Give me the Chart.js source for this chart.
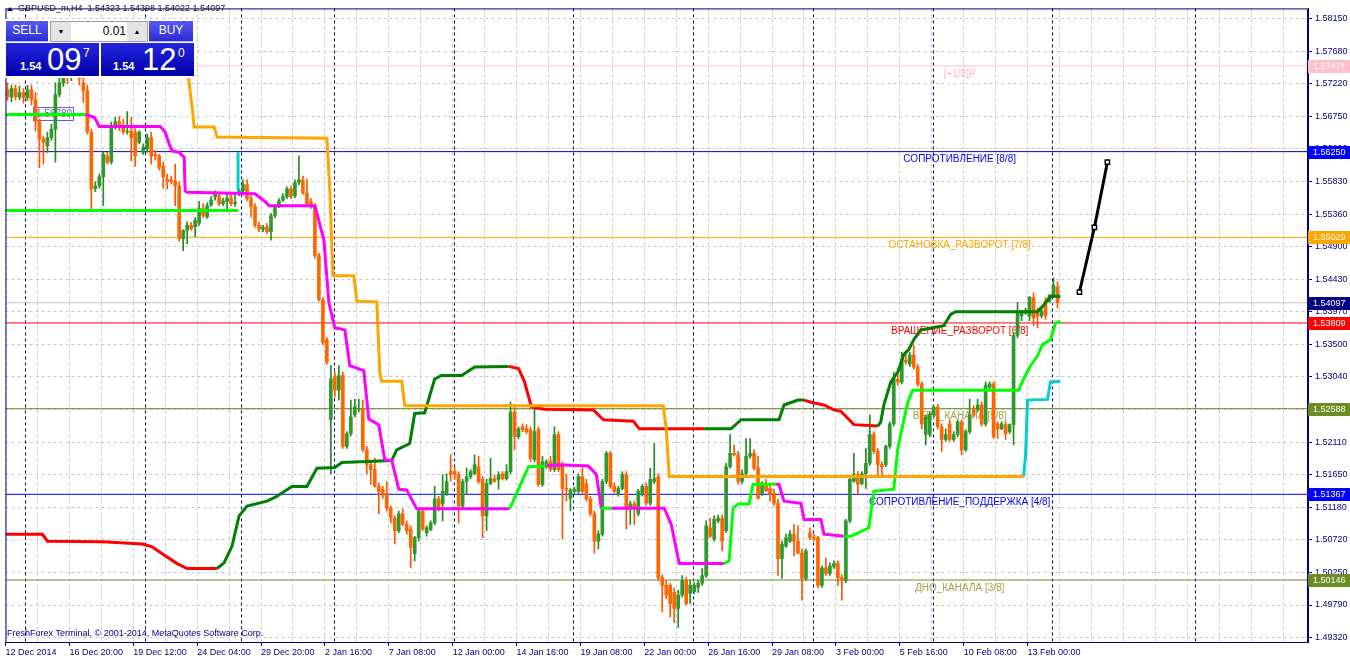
<!DOCTYPE html>
<html>
<head>
<meta charset="utf-8">
<script src="https://cdn.jsdelivr.net/npm/chart.js@4.4.1/dist/chart.umd.min.js"></script>
<style>
  body { margin: 0; background: #fff; overflow: hidden; }
  #wrap { position: relative; width: 1350px; height: 660px; }
  canvas { position: absolute; left: 0; top: 0; }
  .ui { position: absolute; font-family: "Liberation Sans", Arial, sans-serif; color: #fff; }
  .btn { top: 21px; height: 20px; background: linear-gradient(#5858f4, #2c2cd4); font-size: 12px;
         text-align: center; line-height: 19px; border-bottom: 1px solid #b8b8ff; }
  .spin { left: 50px; top: 21px; width: 96px; height: 19px; border: 1px solid #a0a0a0; background: #fff; color: #000; }
  .arr { position: absolute; top: 0; width: 20px; height: 19px; background: #e4e4e4; font-size: 7px;
         line-height: 19px; text-align: center; color: #000; }
  .lot { position: absolute; right: 21px; top: 0; line-height: 19px; font-size: 12px; }
  .px { top: 43px; width: 93px; height: 33px; background: linear-gradient(#2424e0, #0000a8); }
  .px span { position: absolute; }
  .s { font-size: 11px; font-weight: bold; top: 17px; }
  .b { font-size: 31px; top: 0; line-height: 33px; }
  .u { font-size: 12px; top: 3px; }
</style>
</head>
<body>
<div id="wrap">
  <canvas id="chart" width="1350" height="660"></canvas>
  <div class="ui" style="left:5px;top:19px;width:190px;height:59px;background:#fff;"></div>
  <div class="ui btn" style="left:6px;width:42px;">SELL</div>
  <div class="ui spin">
    <div class="arr" style="left:0;">&#9660;</div>
    <div class="lot">0.01</div>
    <div class="arr" style="right:0;">&#9650;</div>
  </div>
  <div class="ui btn" style="left:149px;width:44px;">BUY</div>
  <div class="ui px" style="left:6px;"><span class="s" style="left:14px;">1.54</span><span class="b" style="left:41px;">09</span><span class="u" style="left:77px;">7</span></div>
  <div class="ui px" style="left:101px;"><span class="s" style="left:12px;">1.54</span><span class="b" style="left:41px;">12</span><span class="u" style="left:77px;">0</span></div>
</div>
<script>
// GBPUSD_m, H4 - 264 bougies
var NAVY = '#000080';
var FONT = '"Liberation Sans", Arial, sans-serif';

var xLabels = ["12 Dec 2014", "16 Dec 20:00", "19 Dec 12:00", "24 Dec 04:00", "29 Dec 20:00", "2 Jan 16:00",
  "7 Jan 08:00", "12 Jan 00:00", "14 Jan 16:00", "19 Jan 08:00", "22 Jan 00:00", "26 Jan 16:00",
  "29 Jan 08:00", "3 Feb 00:00", "5 Feb 16:00", "10 Feb 08:00", "13 Feb 00:00"];

var yTicks = [1.58150, 1.57680, 1.57220, 1.56750, 1.56290, 1.55830, 1.55360, 1.54900, 1.54430, 1.53970,
  1.53500, 1.53040, 1.52570, 1.52110, 1.51650, 1.51180, 1.50720, 1.50250, 1.49790, 1.49320];

var open = [
  1.5713,1.5703,1.5715,1.5703,1.5709,1.5702,1.5713,1.5699,1.5668,1.5643,
  1.5633,1.5645,1.5657,1.5706,1.5723,1.5737,1.5732,1.5746,1.5734,1.5723,
  1.5712,1.5653,1.5572,1.5576,1.5589,1.5619,1.5610,1.5660,1.5668,1.5660,
  1.5653,1.5654,1.5653,1.5638,1.5624,1.5629,1.5645,1.5621,1.5619,1.5604,
  1.5586,1.5585,1.5583,1.5576,1.5501,1.5513,1.5520,1.5518,1.5523,1.5544,
  1.5532,1.5549,1.5561,1.5562,1.5551,1.5554,1.5559,1.5551,1.5566,1.5569,
  1.5578,1.5558,1.5547,1.5520,1.5514,1.5518,1.5511,1.5534,1.5548,1.5556,
  1.5561,1.5572,1.5562,1.5581,1.5585,1.5566,1.5554,1.5547,1.5477,1.5414,
  1.5357,1.5243,1.5304,1.5285,1.5306,1.5205,1.5223,1.5250,1.5258,1.5258,
  1.5200,1.5179,1.5172,1.5148,1.5144,1.5138,1.5117,1.5103,1.5085,1.5109,
  1.5094,1.5087,1.5052,1.5075,1.5113,1.5082,1.5087,1.5096,1.5130,1.5123,
  1.5138,1.5169,1.5169,1.5165,1.5120,1.5155,1.5162,1.5166,1.5176,1.5158,
  1.5106,1.5152,1.5159,1.5158,1.5166,1.5159,1.5169,1.5254,1.5219,1.5233,
  1.5230,1.5229,1.5186,1.5229,1.5151,1.5176,1.5183,1.5172,1.5222,1.5179,
  1.5145,1.5131,1.5141,1.5141,1.5162,1.5152,1.5130,1.5109,1.5070,1.5080,
  1.5155,1.5195,1.5148,1.5137,1.5145,1.5165,1.5117,1.5123,1.5109,1.5137,
  1.5148,1.5124,1.5155,1.5162,1.5018,1.5007,1.5007,1.4997,1.4974,1.4993,
  1.5014,1.4995,1.4998,1.5004,1.5010,1.5021,1.5089,1.5073,1.5099,1.5103,
  1.5085,1.5176,1.5195,1.5193,1.5155,1.5166,1.5191,1.5195,1.5174,1.5138,
  1.5151,1.5145,1.5138,1.5124,1.5045,1.5063,1.5070,1.5080,1.5070,1.5053,
  1.5017,1.5082,1.5075,1.5075,1.5007,1.5032,1.5024,1.5034,1.5038,1.5018,
  1.5014,1.5099,1.5155,1.5165,1.5152,1.5166,1.5181,1.5222,1.5198,1.5179,
  1.5179,1.5205,1.5237,1.5301,1.5297,1.5328,1.5322,1.5335,1.5318,1.5294,
  1.5222,1.5222,1.5250,1.5261,1.5233,1.5215,1.5237,1.5215,1.5222,1.5240,
  1.5200,1.5226,1.5258,1.5257,1.5264,1.5237,1.5289,1.5294,1.5237,1.5230,
  1.5236,1.5226,1.5236,1.5363,1.5391,1.5395,1.5391,1.5417,1.5398,1.5391,
  1.5412,1.5412,1.5419,1.54323];

var high = [
  1.5723,1.5720,1.5720,1.5718,1.5715,1.5720,1.5720,1.5709,1.5671,1.5647,
  1.5653,1.5664,1.5723,1.5734,1.5749,1.5749,1.5756,1.5751,1.5746,1.5734,
  1.5720,1.5657,1.5582,1.5593,1.5624,1.5624,1.5667,1.5674,1.5675,1.5671,
  1.5682,1.5674,1.5658,1.5655,1.5636,1.5650,1.5653,1.5627,1.5621,1.5610,
  1.5593,1.5590,1.5607,1.5582,1.5514,1.5525,1.5524,1.5531,1.5554,1.5551,
  1.5552,1.5561,1.5569,1.5568,1.5559,1.5565,1.5565,1.5565,1.5572,1.5585,
  1.5585,1.5562,1.5551,1.5525,1.5520,1.5523,1.5537,1.5549,1.5558,1.5565,
  1.5575,1.5576,1.5585,1.5619,1.5590,1.5586,1.5558,1.5551,1.5480,1.5417,
  1.5360,1.5320,1.5311,1.5320,1.5311,1.5226,1.5271,1.5272,1.5272,1.5271,
  1.5205,1.5183,1.5188,1.5153,1.5148,1.5155,1.5120,1.5106,1.5113,1.5116,
  1.5099,1.5092,1.5077,1.5116,1.5118,1.5092,1.5099,1.5148,1.5134,1.5165,
  1.5166,1.5193,1.5176,1.5169,1.5158,1.5174,1.5172,1.5193,1.5191,1.5162,
  1.5158,1.5188,1.5164,1.5169,1.5169,1.5179,1.5268,1.5265,1.5233,1.5237,
  1.5236,1.5233,1.5264,1.5233,1.5191,1.5186,1.5191,1.5233,1.5226,1.5183,
  1.5166,1.5145,1.5147,1.5166,1.5174,1.5158,1.5134,1.5113,1.5085,1.5158,
  1.5198,1.5198,1.5153,1.5148,1.5169,1.5169,1.5127,1.5127,1.5144,1.5151,
  1.5153,1.5174,1.5209,1.5166,1.5022,1.5014,1.5010,1.5003,1.5000,1.5021,
  1.5018,1.5014,1.5011,1.5014,1.5031,1.5099,1.5103,1.5106,1.5107,1.5107,
  1.5181,1.5222,1.5207,1.5198,1.5172,1.5216,1.5216,1.5200,1.5191,1.5155,
  1.5158,1.5151,1.5144,1.5130,1.5070,1.5080,1.5085,1.5094,1.5092,1.5059,
  1.5059,1.5089,1.5080,1.5077,1.5035,1.5046,1.5039,1.5042,1.5042,1.5022,
  1.5101,1.5161,1.5195,1.5169,1.5169,1.5202,1.5250,1.5226,1.5202,1.5183,
  1.5207,1.5240,1.5311,1.5311,1.5339,1.5342,1.5339,1.5349,1.5322,1.5297,
  1.5250,1.5254,1.5264,1.5265,1.5237,1.5230,1.5243,1.5226,1.5243,1.5243,
  1.5229,1.5272,1.5263,1.5272,1.5268,1.5297,1.5297,1.5297,1.5240,1.5240,
  1.5240,1.5237,1.5367,1.5410,1.5398,1.5402,1.5419,1.5424,1.5402,1.5402,
  1.5417,1.5421,1.5445,1.54398];

var low = [
  1.5698,1.5696,1.5699,1.5699,1.5694,1.5698,1.5692,1.5654,1.5602,1.5607,
  1.5624,1.5641,1.5610,1.5703,1.5718,1.5722,1.5726,1.5732,1.5720,1.5695,
  1.5650,1.5541,1.5568,1.5573,1.5548,1.5607,1.5607,1.5657,1.5655,1.5650,
  1.5650,1.5612,1.5604,1.5636,1.5621,1.5624,1.5607,1.5613,1.5599,1.5573,
  1.5572,1.5579,1.5548,1.5497,1.5484,1.5494,1.5513,1.5504,1.5520,1.5531,
  1.5530,1.5547,1.5556,1.5548,1.5548,1.5540,1.5548,1.5547,1.5562,1.5566,
  1.5555,1.5532,1.5517,1.5511,1.5511,1.5508,1.5499,1.5531,1.5545,1.5554,
  1.5558,1.5558,1.5559,1.5578,1.5564,1.5549,1.5544,1.5473,1.5412,1.5350,
  1.5322,1.5166,1.5275,1.5271,1.5202,1.5202,1.5220,1.5247,1.5254,1.5198,
  1.5166,1.5151,1.5147,1.5109,1.5131,1.5113,1.5096,1.5066,1.5082,1.5092,
  1.5080,1.5032,1.5042,1.5070,1.5085,1.5077,1.5085,1.5093,1.5113,1.5099,
  1.5135,1.5155,1.5158,1.5096,1.5117,1.5137,1.5159,1.5165,1.5152,1.5075,
  1.5085,1.5150,1.5154,1.5144,1.5157,1.5157,1.5166,1.5200,1.5216,1.5226,
  1.5223,1.5183,1.5183,1.5148,1.5148,1.5174,1.5169,1.5169,1.5169,1.5073,
  1.5127,1.5113,1.5138,1.5138,1.5138,1.5127,1.5106,1.5053,1.5059,1.5077,
  1.5152,1.5145,1.5138,1.5134,1.5143,1.5087,1.5094,1.5094,1.5106,1.5134,
  1.5121,1.5121,1.5152,1.5014,1.4969,1.4988,1.4962,1.4954,1.4947,1.4990,
  1.4979,1.4981,1.4995,1.4997,1.5007,1.5018,1.5075,1.5070,1.5096,1.5056,
  1.5082,1.5174,1.5191,1.5151,1.5152,1.5164,1.5188,1.5171,1.5130,1.5135,
  1.5141,1.5127,1.5121,1.5021,1.5017,1.5061,1.5068,1.5049,1.5052,1.4986,
  1.5014,1.5072,1.5070,1.5004,1.5004,1.5021,1.5021,1.5031,1.5007,1.4986,
  1.5011,1.5096,1.5154,1.5137,1.5150,1.5145,1.5178,1.5195,1.5165,1.5165,
  1.5176,1.5202,1.5234,1.5292,1.5294,1.5322,1.5319,1.5315,1.5291,1.5230,
  1.5207,1.5219,1.5247,1.5230,1.5198,1.5212,1.5212,1.5212,1.5219,1.5193,
  1.5198,1.5223,1.5247,1.5254,1.5234,1.5234,1.5287,1.5216,1.5216,1.5229,
  1.5215,1.5223,1.5207,1.5360,1.5384,1.5393,1.5384,1.5377,1.5374,1.5388,
  1.5386,1.5410,1.5417,1.54022];

var close = [
  1.5703,1.5715,1.5703,1.5709,1.5702,1.5713,1.5699,1.5668,1.5643,1.5638,
  1.5645,1.5657,1.5706,1.5723,1.5737,1.5732,1.5746,1.5734,1.5729,1.5712,
  1.5653,1.5572,1.5576,1.5589,1.5621,1.5610,1.5660,1.5668,1.5660,1.5653,
  1.5654,1.5645,1.5619,1.5653,1.5631,1.5645,1.5619,1.5619,1.5603,1.5589,
  1.5582,1.5582,1.5576,1.5501,1.5513,1.5520,1.5515,1.5527,1.5544,1.5534,
  1.5548,1.5556,1.5565,1.5551,1.5555,1.5559,1.5551,1.5552,1.5569,1.5578,
  1.5558,1.5547,1.5520,1.5514,1.5517,1.5511,1.5534,1.5547,1.5555,1.5561,
  1.5572,1.5561,1.5581,1.5585,1.5566,1.5551,1.5547,1.5477,1.5414,1.5353,
  1.5325,1.5301,1.5285,1.5306,1.5205,1.5223,1.5247,1.5261,1.5258,1.5200,
  1.5179,1.5172,1.5148,1.5141,1.5137,1.5117,1.5103,1.5085,1.5109,1.5094,
  1.5085,1.5061,1.5075,1.5113,1.5087,1.5089,1.5096,1.5130,1.5116,1.5141,
  1.5155,1.5165,1.5165,1.5120,1.5155,1.5162,1.5169,1.5179,1.5155,1.5106,
  1.5152,1.5159,1.5155,1.5165,1.5159,1.5169,1.5254,1.5219,1.5230,1.5229,
  1.5226,1.5188,1.5226,1.5151,1.5183,1.5183,1.5172,1.5222,1.5172,1.5145,
  1.5143,1.5143,1.5144,1.5162,1.5141,1.5130,1.5109,1.5070,1.5080,1.5155,
  1.5195,1.5148,1.5141,1.5145,1.5165,1.5117,1.5123,1.5117,1.5141,1.5148,
  1.5124,1.5158,1.5159,1.5018,1.5007,1.4993,1.4981,1.4974,1.4993,1.5014,
  1.4981,1.5007,1.5007,1.5010,1.5021,1.5092,1.5077,1.5101,1.5103,1.5070,
  1.5176,1.5195,1.5193,1.5155,1.5166,1.5191,1.5195,1.5174,1.5131,1.5151,
  1.5142,1.5137,1.5124,1.5045,1.5066,1.5075,1.5080,1.5070,1.5053,1.5017,
  1.5056,1.5075,1.5073,1.5007,1.5032,1.5024,1.5035,1.5038,1.5018,1.5014,
  1.5099,1.5158,1.5165,1.5151,1.5166,1.5181,1.5222,1.5198,1.5179,1.5176,
  1.5205,1.5237,1.5301,1.5297,1.5329,1.5325,1.5335,1.5318,1.5294,1.5237,
  1.5247,1.5251,1.5261,1.5233,1.5215,1.5222,1.5215,1.5222,1.5240,1.5200,
  1.5226,1.5250,1.5250,1.5264,1.5237,1.5292,1.5294,1.5219,1.5230,1.5237,
  1.5223,1.5236,1.5363,1.5395,1.5398,1.5398,1.5417,1.5388,1.5391,1.5398,
  1.5391,1.5421,1.5434,1.54097];

// niveaux Murrey (prix, couleur ligne, couleur boite, texte, couleur texte)
var levelPrices = [1.57471, 1.56250, 1.55029, 1.54097, 1.53809, 1.52588, 1.51367, 1.50146];
var levelLineColors = ['#ffc0cb', '#0000c0', '#ffa500', '#c0c0c0', '#ff0000', '#6b8e23', '#0000ff', '#6b8e23'];
var levelBoxColors = ['#ffc0cb', '#0000ff', '#ffa500', '#000080', '#ff0000', '#6b8e23', '#0000ff', '#6b8e23'];
var levelNames = ['[+1/8]P', 'СОПРОТИВЛЕНИЕ [8/8]', 'ОСТАНОВКА_РАЗВОРОТ [7/8]', '', 'ВРАЩЕНИЕ_РАЗВОРОТ [6/8]',
  'ВЕРХ_КАНАЛА [5/8]', 'СОПРОТИВЛЕНИЕ_ПОДДЕРЖКА [4/8]', 'ДНО_КАНАЛА [3/8]'];
var levelTextColors = ['#ffb6c1', '#0000ff', '#ffa500', '', '#ff0000', '#a8a040', '#0000ff', '#a8a040'];

// separateurs de periode (en index de bougie)
var separators = [4.5, 34.5, 58.5, 81.75, 111.75, 141.75, 171.75, 201.75, 231.75, 261.75, 297.5];

// indicateurs : [index, prix]
var orangePts = [[45.25,1.5734],[46.25,1.5688],[46.75,1.5660],[51.75,1.5660],[52.5,1.5646],[80,1.5644],[80.75,1.5569],
  [81.5,1.5448],[86.75,1.5448],[87.5,1.5412],[92.5,1.5411],[93.25,1.5311],[93.75,1.5298],[98.75,1.5298],[99.5,1.5263],
  [164.25,1.5263],[165,1.5230],[165.75,1.5162],[254.5,1.5162]];
var cyanPts = [[254.5,1.5162],[255,1.5191],[255.5,1.5271],[260.5,1.5272],[261.25,1.5297],[263.75,1.5298]];
var cyanEarly = [[57.75,1.5569],[57.75,1.5624]];
var limeEarly1 = [[-0.5,1.5678],[19.5,1.5678]];
var limeEarly2 = [[-0.5,1.5541],[57.75,1.5541]];

// M = magenta, L = vert clair (couleur du segment qui part du point)
var mlPts = [[19.5,1.5678,'M'],[21.75,1.5674,'M'],[23,1.5661,'M'],[38.25,1.5661,'M'],[39.5,1.5653,'M'],[40.5,1.5636,'M'],
  [41.25,1.5626,'M'],[43,1.5624,'M'],[44.25,1.5617,'M'],[44.5,1.5569,'M'],[45,1.5567,'M'],[62,1.5565,'M'],[64.5,1.5554,'M'],
  [65.5,1.5548,'M'],[77,1.5548,'M'],[79.25,1.5499,'M'],[80.5,1.5410,'M'],[82,1.5374,'M'],[84.5,1.5371,'M'],[85.75,1.5320,'M'],
  [89.25,1.5313,'M'],[90.5,1.5244,'M'],[93,1.5236,'M'],[94.5,1.5186,'M'],[96.25,1.5185,'M'],[98,1.5144,'M'],[100,1.5143,'M'],
  [102.5,1.5116,'M'],[125.75,1.5116,'L'],[127,1.5131,'L'],[128,1.5144,'L'],[130.5,1.5176,'L'],[135,1.5177,'M'],[138,1.5179,'M'],
  [145.5,1.5177,'M'],[147.5,1.5165,'M'],[148.75,1.5117,'L'],[151.25,1.5117,'M'],[164.5,1.5117,'M'],[166.25,1.5094,'M'],
  [168.25,1.5038,'M'],[179.5,1.5038,'L'],[180.75,1.5042,'L'],[181.75,1.5117,'L'],[183,1.5123,'L'],[185.75,1.5123,'L'],
  [186.75,1.5151,'L'],[192.5,1.5151,'M'],[193.25,1.5151,'M'],[194.5,1.5127,'M'],[198.75,1.5124,'M'],[199.5,1.5101,'M'],
  [203.75,1.5101,'M'],[204.5,1.5080,'M'],[209.5,1.5077,'L'],[211.25,1.5077,'L'],[215.75,1.5089,'L'],[217,1.5141,'L'],
  [222,1.5144,'L'],[223,1.5202,'L'],[225.5,1.5268,'L'],[226.75,1.5285,'L'],[253.25,1.5285,'L'],[254.5,1.5301,'L'],
  [256.25,1.5320,'L'],[258,1.5334,'L'],[259.25,1.5350,'L'],[261.25,1.5357,'L'],[262.5,1.5381,'L'],[263.75,1.5383,'L']];

// R = rouge, G = vert fonce
var rgPts = [[-0.5,1.5080,'R'],[8.75,1.5080,'R'],[10,1.5070,'R'],[23.75,1.5069,'R'],[33.75,1.5066,'R'],[36.25,1.5062,'R'],
  [38.75,1.5052,'R'],[42.5,1.5038,'R'],[45,1.5031,'R'],[52.5,1.5031,'G'],[54.25,1.5039,'G'],[56.25,1.5063,'G'],[58,1.5106,'G'],
  [60,1.5120,'G'],[65,1.5127,'G'],[67.5,1.5134,'G'],[71.25,1.5148,'G'],[75,1.5148,'G'],[77.5,1.5174,'G'],[82,1.5175,'G'],
  [83.75,1.5182,'G'],[96.25,1.5185,'G'],[97.5,1.5200,'G'],[100.75,1.5209,'G'],[102,1.5252,'G'],[104.5,1.5253,'G'],
  [107,1.5301,'G'],[108.75,1.5306,'G'],[113.75,1.5306,'G'],[117,1.5318,'G'],[125.5,1.5319,'R'],[128,1.5316,'R'],
  [129.5,1.5297,'R'],[131.25,1.5261,'R'],[134.5,1.5258,'R'],[146.75,1.5257,'R'],[149.25,1.5243,'R'],[156.75,1.5241,'R'],
  [158.25,1.5230,'R'],[174.5,1.5230,'G'],[181.25,1.5230,'G'],[183.75,1.5243,'G'],[193.25,1.5243,'G'],[194.5,1.5264,'G'],
  [198,1.5271,'G'],[199.5,1.5271,'R'],[201.25,1.5268,'R'],[204.5,1.5264,'R'],[207,1.5257,'R'],[208.75,1.5255,'R'],
  [212,1.5236,'R'],[218,1.5234,'G'],[218.75,1.5240,'G'],[219.5,1.5264,'G'],[221.25,1.5297,'G'],[223,1.5311,'G'],
  [224.5,1.5336,'G'],[225.75,1.5343,'G'],[227,1.5357,'G'],[228.75,1.5371,'G'],[234.5,1.5377,'G'],[236.25,1.5393,'G'],
  [237.5,1.5397,'G'],[258,1.5397,'G'],[259.5,1.5406,'G'],[261.25,1.5419,'G'],[263.75,1.5419,'G']];

var forecastPts = [[268.5,1.5425],[272.25,1.5517],[275.5,1.5610]];

var labelK = 238.5;      // centre des textes de niveau
var tagPrice = 1.56780;  // petite etiquette a gauche

// ---------------------------------------------------------------
function pts(arr) { return arr.map(function (p) { return {x: p[0], y: p[1]}; }); }

var bull = close.map(function (c, i) { return c >= open[i]; });
var wickData = high.map(function (h, i) { return {x: i, y: [low[i], h]}; });
var bodyData = open.map(function (o, i) { return {x: i, y: [o, close[i]]}; });

var lineBase = {type: 'line', pointRadius: 0, borderWidth: 3, tension: 0, fill: false};

var datasets = [];
datasets.push(Object.assign({}, lineBase, {data: pts(forecastPts), borderColor: '#000', order: 0,
  pointRadius: 3, pointStyle: 'rect', pointBackgroundColor: '#fff', pointBorderColor: '#000', pointBorderWidth: 1.5}));
datasets.push(Object.assign({}, lineBase, {data: pts(orangePts), borderColor: '#ffa500', order: 1}));
datasets.push(Object.assign({}, lineBase, {data: pts(cyanPts), borderColor: '#00ced1', order: 1}));
datasets.push(Object.assign({}, lineBase, {data: pts(cyanEarly), borderColor: '#00ced1', order: 1}));
datasets.push(Object.assign({}, lineBase, {data: pts(limeEarly1), borderColor: '#00ff00', order: 2}));
datasets.push(Object.assign({}, lineBase, {data: pts(limeEarly2), borderColor: '#00ff00', order: 2}));
datasets.push(Object.assign({}, lineBase, {data: pts(mlPts), borderColor: '#ff00ff', order: 2,
  segment: {borderColor: function (c) { return mlPts[c.p0DataIndex][2] === 'L' ? '#00ff00' : '#ff00ff'; }}}));
datasets.push(Object.assign({}, lineBase, {data: pts(rgPts), borderColor: '#ff0000', order: 3,
  segment: {borderColor: function (c) { return rgPts[c.p0DataIndex][2] === 'G' ? '#008000' : '#ff0000'; }}}));
datasets.push({type: 'bar', data: bodyData, barThickness: 3, grouped: false, minBarLength: 1, order: 5,
  backgroundColor: function (c) { return bull[c.dataIndex] ? '#2e9a2e' : '#ff6600'; }});
datasets.push({type: 'bar', data: wickData, barThickness: 1, grouped: false, order: 6,
  backgroundColor: function (c) { return bull[c.dataIndex] ? '#228b22' : '#ff5500'; }});
levelPrices.forEach(function (p, i) {
  datasets.push({type: 'line', data: [{x: -0.5, y: p}, {x: 325.75, y: p}], borderColor: levelLineColors[i],
    borderWidth: 1, pointRadius: 0, order: 7});
});

var gridK = [];
for (var j = 0; j * 8 - 0.5 <= 325; j++) gridK.push(j * 8 - 0.5);

var mtPlugin = {
  id: 'mt',
  beforeDatasetsDraw: function (chart) {
    var ctx = chart.ctx, a = chart.chartArea, x = chart.scales.x, y = chart.scales.y;
    ctx.save();
    ctx.strokeStyle = NAVY; ctx.lineWidth = 1; ctx.setLineDash([3, 3]);
    separators.forEach(function (k) {
      var px = Math.round(x.getPixelForValue(k)) + 0.5;
      ctx.beginPath(); ctx.moveTo(px, a.top); ctx.lineTo(px, a.bottom); ctx.stroke();
    });
    ctx.setLineDash([]);
    ctx.font = '10px ' + FONT; ctx.textAlign = 'center'; ctx.textBaseline = 'middle';
    levelNames.forEach(function (n, i) {
      if (!n) return;
      ctx.fillStyle = levelTextColors[i];
      ctx.fillText(n, x.getPixelForValue(labelK), y.getPixelForValue(levelPrices[i]) + 8);
    });
    // etiquette 1.56780
    var ty = Math.round(y.getPixelForValue(tagPrice));
    var tx = Math.round(x.getPixelForValue(6.5));
    ctx.strokeStyle = '#6a5acd'; ctx.strokeRect(tx + 0.5, ty - 6.5, 40, 13);
    ctx.fillStyle = '#6a5acd'; ctx.textAlign = 'left';
    ctx.fillText(tagPrice.toFixed(5), tx + 3, ty + 0.5);
    ctx.restore();
  },
  afterDraw: function (chart) {
    var ctx = chart.ctx, a = chart.chartArea, y = chart.scales.y;
    ctx.save();
    ctx.strokeStyle = NAVY; ctx.lineWidth = 1;
    ctx.strokeRect(a.left + 0.5, a.top + 0.5, a.right - a.left - 1, a.bottom - a.top);
    ctx.font = '9px ' + FONT; ctx.textBaseline = 'middle'; ctx.textAlign = 'left';
    levelPrices.forEach(function (p, i) {
      var py = Math.round(y.getPixelForValue(p));
      ctx.fillStyle = levelBoxColors[i];
      ctx.fillRect(a.right, py - 6, 42, 13);
      ctx.fillStyle = '#fff';
      ctx.fillText(p.toFixed(5), a.right + 5, py + 0.5);
    });
    // titre
    ctx.fillStyle = NAVY;
    ctx.beginPath(); ctx.moveTo(7, 11); ctx.lineTo(13, 11); ctx.lineTo(10, 7); ctx.closePath(); ctx.fill();
    ctx.fillStyle = '#101030';
    ctx.fillText('GBPUSD_m,H4  1.54323 1.54398 1.54022 1.54097', 18, 9);
    ctx.fillStyle = NAVY;
    ctx.fillText('FreshForex Terminal, \u00a9 2001-2014, MetaQuotes Software Corp.', 7, 634);
    ctx.restore();
  }
};

window.onload = function () {
  var ctx = document.getElementById('chart').getContext('2d');
  window.mt = new Chart(ctx, {
    type: 'bar',
    data: {datasets: datasets},
    plugins: [mtPlugin],
    options: {
      responsive: false, animation: false, events: [], devicePixelRatio: 1,
      layout: {padding: {left: 3, top: 3, right: 0, bottom: 0}},
      plugins: {legend: {display: false}, tooltip: {enabled: false}},
      scales: {
        x: {
          type: 'linear', min: -0.5, max: 325.75, offset: false,
          afterBuildTicks: function (s) { s.ticks = gridK.map(function (v) { return {value: v}; }); },
          afterFit: function (s) { s.height = 18; },
          grid: {color: '#c8c8c8', offset: false, tickLength: 4,
            tickColor: function (c) { return (c.index % 2 === 0 && c.index / 2 < xLabels.length) ? NAVY : 'rgba(0,0,0,0)'; }},
          border: {color: NAVY, dash: [3, 3]},
          ticks: {align: 'start', autoSkip: false, maxRotation: 0, padding: 1, color: NAVY,
            font: {family: FONT, size: 9},
            callback: function (v, i) { return (i % 2 === 0 && i / 2 < xLabels.length) ? xLabels[i / 2] : ''; }}
        },
        y: {
          type: 'linear', position: 'right', min: 1.49263, max: 1.58291, beginAtZero: false,
          afterBuildTicks: function (s) { s.ticks = yTicks.map(function (v) { return {value: v}; }); },
          afterFit: function (s) { s.width = 42; },
          grid: {color: '#c8c8c8', tickLength: 4, tickColor: NAVY},
          border: {color: NAVY, dash: [3, 3]},
          ticks: {padding: 3, color: NAVY, font: {family: FONT, size: 9},
            callback: function (v) { return v.toFixed(5); }}
        }
      }
    }
  });
};
</script>
</body>
</html>
